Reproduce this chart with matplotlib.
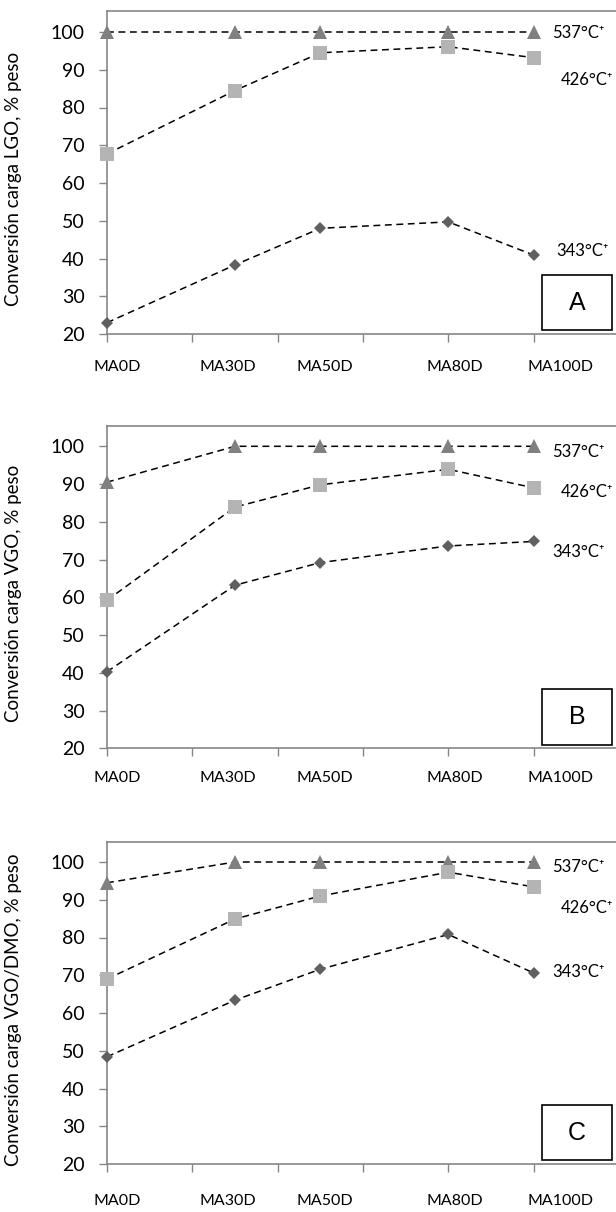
import matplotlib.pyplot as plt
from matplotlib.patches import Rectangle

# feed blend ratio, % of the second component (MA0D ... MA100D)
x_vals = [0, 30, 50, 80, 100]
cat_labels = ['MA0D', 'MA30D', 'MA50D', 'MA80D', 'MA100D']
cut_names = ['537°C⁺', '426°C⁺', '343°C⁺']

# conversion, wt %, for each cut point
lgo_537 = [100, 100, 100, 100, 100]
lgo_426 = [67.7, 84.5, 94.5, 96.1, 93.2]
lgo_343 = [23.0, 38.3, 48.0, 49.7, 40.9]

vgo_537 = [90.5, 100, 100, 100, 100]
vgo_426 = [59.2, 83.9, 89.8, 93.9, 89.0]
vgo_343 = [40.3, 63.2, 69.2, 73.6, 74.8]

dmo_537 = [94.5, 100, 100, 100, 100]
dmo_426 = [69.0, 84.9, 91.0, 97.3, 93.4]
dmo_343 = [48.4, 63.4, 71.6, 80.8, 70.6]

panels = [
    ('Conversión carga LGO, % peso', 'A', [lgo_537, lgo_426, lgo_343]),
    ('Conversión carga VGO, % peso', 'B', [vgo_537, vgo_426, vgo_343]),
    ('Conversión carga VGO/DMO, % peso', 'C', [dmo_537, dmo_426, dmo_343]),
]

FONT = ['Lato', 'DejaVu Sans']
plt.rcParams['font.family'] = FONT

W, H = 616, 1212
# plot area per panel: (top, bottom) in pixels
boxes = [(10.7, 334.0), (426.0, 748.3), (841.7, 1164.0)]
AX_LEFT, AX_RIGHT = 107, 619
# where the cut names sit (x, y) in data units
name_pos = [
    [(104.3, 99.7), (106.4, 87.4), (105.2, 41.9)],
    [(104.3, 98.5), (106.4, 87.9), (104.3, 72.0)],
    [(104.3, 98.7), (106.4, 87.7), (104.3, 70.9)],
]
label_x = [2.4, 28.4, 51.1, 81.6, 106.2]
label_pad = [33, 30, 37]

markers = [('^', '#808080', 10), ('s', '#b4b4b4', 9.5), ('D', '#606060', 6.5)]
spine_c = '#868686'

fig = plt.figure(figsize=(W / 100, H / 100), dpi=100)

for i, (ylab, letter, series) in enumerate(panels):
    top, bot = boxes[i]
    ax = fig.add_axes([AX_LEFT / W, 1 - bot / H,
                       (AX_RIGHT - AX_LEFT) / W, (bot - top) / H])
    ax.set_xlim(0, 120)
    ax.set_ylim(20, 20 + (bot - top) / 3.775)

    for ys, (m, c, ms) in zip(series, markers):
        ax.plot(x_vals, ys, ls=(0, (4.5, 3)), color='black', lw=1.1,
                zorder=2)
        ax.plot(x_vals, ys, ls='none', marker=m, color=c, ms=ms,
                markeredgewidth=0, zorder=3, clip_on=False)

    for name, (tx, ty) in zip(cut_names, name_pos[i]):
        ax.text(tx, ty, name, fontsize=12, va='center', ha='left',
                family=FONT, clip_on=False)

    ax.set_xticks(range(0, 121, 20))
    ax.set_xticklabels([])
    ax.set_yticks(range(20, 101, 10))
    ax.tick_params(axis='both', direction='out', length=6, width=1,
                   color=spine_c, labelsize=14, pad=10)
    for s in ax.spines.values():
        s.set_color(spine_c)
        s.set_linewidth(1.2)

    ax.set_ylabel(ylab, fontsize=13.5)
    ax.yaxis.set_label_coords(-(AX_LEFT - 22) / (AX_RIGHT - AX_LEFT), 0.48)

    # category names under the axis
    for lx, lab in zip(label_x, cat_labels):
        ax.annotate(lab, (lx, 20), xytext=(0, -label_pad[i]),
                    textcoords='offset pixels', ha='center', va='center',
                    fontsize=11.5, annotation_clip=False)

    # panel letter box
    ax.add_patch(Rectangle((102, 21.0), 16.4, 14.6, fill=False,
                           edgecolor='black', lw=1.2, zorder=4))
    ax.text(110.2, 28.3, letter, ha='center', va='center', fontsize=18,
            family=['Liberation Sans', 'DejaVu Sans'], zorder=5)

fig.savefig('out.png', dpi=100)
